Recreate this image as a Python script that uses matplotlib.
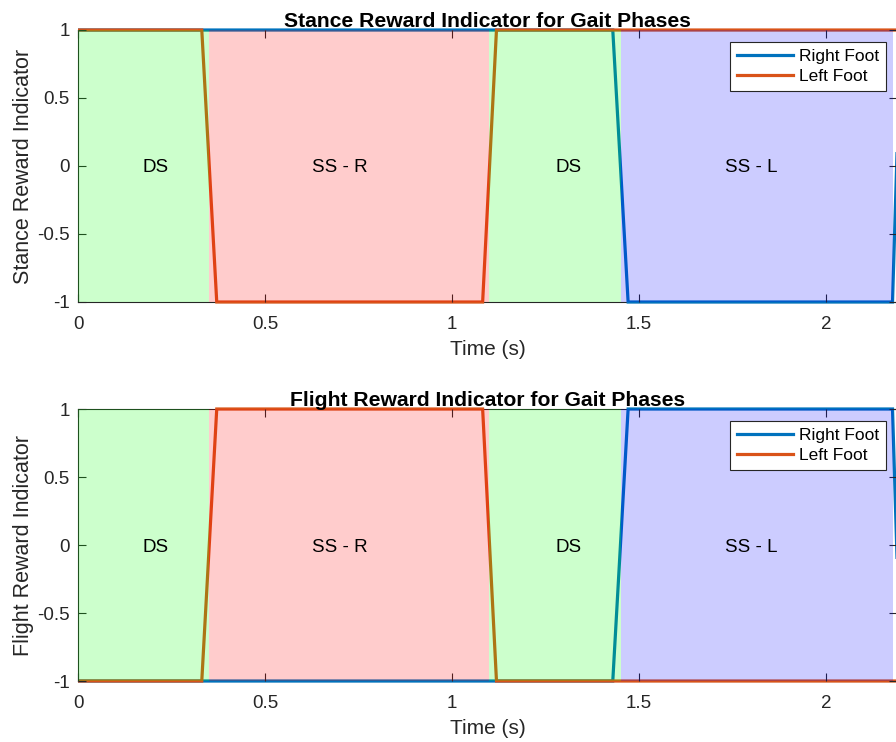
import matplotlib
matplotlib.use("Agg")
import matplotlib.pyplot as plt
from matplotlib.patches import Rectangle

plt.rcParams['font.family'] = ['Liberation Sans', 'DejaVu Sans']

# Time samples (s) and indicator values
time_r = [0.0, 1.430, 1.471, 2.178, 2.200]
stance_right = [1, 1, -1, -1, 1]
time_l = [0.0, 0.331, 0.371, 1.082, 1.119, 2.215]
stance_left = [1, 1, -1, -1, 1, 1]
flight_right = [-v for v in stance_right]
flight_left = [-v for v in stance_left]

# Gait phases
phase_names = ["DS", "SS - R", "DS", "SS - L"]
phase_start = [0.0, 0.350, 1.100, 1.451]
phase_end = [0.350, 1.100, 1.451, 2.178]
phase_color = ["lime", "red", "lime", "blue"]
label_x = [0.208, 0.700, 1.312, 1.800]

xmax = 2.19
col_right = (0.0, 0.447, 0.741)
col_left = (0.850, 0.325, 0.098)
axis_col = (0.15, 0.15, 0.15)

fig = plt.figure(figsize=(8.96, 7.42), dpi=100)
ax1 = fig.add_axes([78/896, 1-302/742, (897-78)/896, 272/742])
ax2 = fig.add_axes([78/896, 1-681/742, (897-78)/896, 272/742])

panels = [
    (ax1, stance_right, stance_left, "Stance Reward Indicator",
     "Stance Reward Indicator for Gait Phases"),
    (ax2, flight_right, flight_left, "Flight Reward Indicator",
     "Flight Reward Indicator for Gait Phases"),
]

for ax, yr, yl, ylab, title in panels:
    lr, = ax.plot(time_r, yr, color=col_right, lw=2.3, zorder=1, label="Right Foot",
                  solid_joinstyle='miter')
    ll, = ax.plot(time_l, yl, color=col_left, lw=2.3, zorder=1.1, label="Left Foot",
                  solid_joinstyle='miter')
    for ln in (lr, ll):
        clip = Rectangle((0, -0.03), 1, 1.06, transform=ax.transAxes,
                         facecolor='none', edgecolor='none')
        ln.set_clip_path(clip)
    for s, e, c in zip(phase_start, phase_end, phase_color):
        ax.fill_between([s, e], [-1, -1], [1, 1], color=c, alpha=0.2, lw=0, zorder=2)
    for name, x in zip(phase_names, label_x):
        ax.text(x, 0, name, ha='center', va='center_baseline', fontsize=13.5,
                color='black', zorder=3)
    ax.set_xlim(0, xmax)
    ax.set_ylim(-1, 1)
    ax.set_xticks([0, 0.5, 1, 1.5, 2])
    ax.set_xticklabels(["0", "0.5", "1", "1.5", "2"])
    ax.set_yticks([-1, -0.5, 0, 0.5, 1])
    ax.set_yticklabels(["-1", "-0.5", "0", "0.5", "1"])
    ax.tick_params(direction='in', length=6, width=0.8, colors=axis_col,
                   labelsize=13.5, top=True, right=True)
    ax.tick_params(axis='x', pad=10)
    ax.tick_params(axis='y', pad=6)
    for sp in ax.spines.values():
        sp.set_color(axis_col)
        sp.set_linewidth(0.8)
        sp.set_zorder(0.5)
    ax.set_xlabel("Time (s)", fontsize=15, color=axis_col, labelpad=5)
    ax.set_ylabel(ylab, fontsize=15.5, color=axis_col, labelpad=2)
    ax.set_title(title, fontsize=15.2, fontweight='bold', pad=2)
    leg = ax.legend(handles=[lr, ll], loc='upper right', fontsize=12.5,
                    frameon=True, fancybox=False, edgecolor=axis_col,
                    framealpha=1, borderpad=0.4, handlelength=3.2,
                    handletextpad=0.35, labelspacing=0.3,
                    bbox_to_anchor=(0.9865, 0.957), borderaxespad=0)
    leg.get_frame().set_linewidth(0.8)
    leg.set_zorder(5)

fig.savefig("out.png", dpi=100)
